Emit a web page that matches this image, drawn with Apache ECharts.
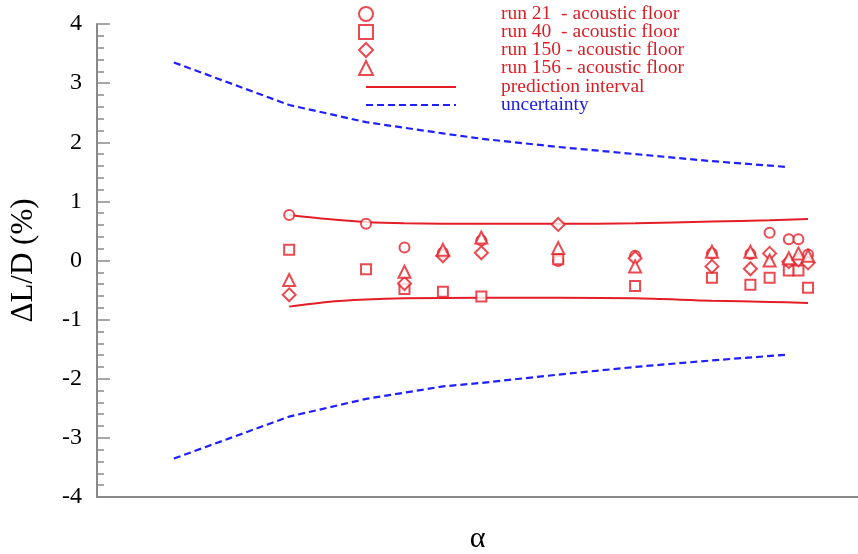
<!DOCTYPE html>
<html>
<head>
<meta charset="utf-8">
<title>ΔL/D vs α</title>
<script src="https://cdn.jsdelivr.net/npm/echarts@6/dist/echarts.min.js"></script>
<style>
  html, body { margin: 0; padding: 0; background: #fff; }
  #chart { width: 858px; height: 554px; }
</style>
</head>
<body>
<div id="chart"></div>
<script>
// Angle-of-attack stations (relative units) and measured ΔL/D (%) per run
var alphaRun21 = [0, 2, 3, 4, 5, 7, 9, 11, 12, 12.5, 13, 13.25, 13.5];
var run21 = [0.77, 0.62, 0.22, 0.13, 0.34, -0.01, 0.08, 0.12, 0.11, 0.47, 0.36, 0.36, 0.10];

var alphaRun40 = [0, 2, 3, 4, 5, 7, 9, 11, 12, 12.5, 13, 13.25, 13.5];
var run40 = [0.18, -0.15, -0.48, -0.53, -0.61, 0.02, -0.43, -0.29, -0.41, -0.29, -0.17, -0.17, -0.46];

var alphaRun150 = [0, 3, 4, 5, 7, 9, 11, 12, 12.5, 13, 13.25, 13.5];
var run150 = [-0.58, -0.39, 0.08, 0.13, 0.61, 0.04, -0.10, -0.14, 0.12, -0.02, 0.01, -0.04];

var alphaRun156 = [0, 3, 4, 5, 7, 9, 11, 12, 12.5, 13, 13.25, 13.5];
var run156 = [-0.33, -0.19, 0.18, 0.39, 0.21, -0.10, 0.15, 0.15, 0.00, 0.04, 0.12, 0.08];

// Prediction interval bounds
var alphaPred = [0, 1, 2, 3, 5, 7, 9, 11, 12.5, 13.5];
var predUpper = [0.77, 0.70, 0.65, 0.63, 0.62, 0.62, 0.63, 0.66, 0.68, 0.70];
var predLower = [-0.78, -0.70, -0.66, -0.64, -0.63, -0.63, -0.64, -0.68, -0.70, -0.72];

// Uncertainty bounds
var alphaUnc = [-3, 0, 2, 4, 5, 7, 9, 11, 13];
var uncUpper = [3.35, 2.63, 2.34, 2.15, 2.06, 1.92, 1.80, 1.68, 1.58];
var uncLower = [-3.35, -2.64, -2.34, -2.13, -2.07, -1.93, -1.80, -1.69, -1.59];

// Y-axis ticks
var yTicks = [-4, -3, -2, -1, 0, 1, 2, 3, 4];

var RED = '#e41e26';
var RED_TEXT = '#d81e26';
var BLUE = '#1f1fff';
var BLUE_TEXT = '#1a1ae6';
var AXIS_GREY = '#8a8a8a';
var SERIF = '"Liberation Serif", "DejaVu Serif", serif';

function pairs(xs, ys) {
  return xs.map(function (x, i) { return [x, ys[i]]; });
}

var names = {
  r21: 'run 21  - acoustic floor',
  r40: 'run 40  - acoustic floor',
  r150: 'run 150 - acoustic floor',
  r156: 'run 156 - acoustic floor',
  pred: 'prediction interval',
  unc: 'uncertainty'
};

function scatter(name, symbol, size, data) {
  return {
    name: name,
    type: 'scatter',
    symbol: symbol,
    symbolSize: size,
    data: data,
    itemStyle: { color: RED, borderColor: RED, borderWidth: 1.8 },
    z: 5
  };
}

function line(name, data, color, type, smooth) {
  return {
    name: name,
    type: 'line',
    data: data,
    symbol: 'none',
    smooth: smooth,
    lineStyle: { color: color, width: type === 'solid' ? 2 : 2.2, type: type },
    itemStyle: { color: color },
    z: 3
  };
}

var legendText = { fontFamily: SERIF, fontSize: 19.5, lineHeight: 18, color: RED_TEXT };

var chart = echarts.init(document.getElementById('chart'), null, { renderer: 'canvas' });

chart.setOption({
  animation: false,
  backgroundColor: '#ffffff',
  grid: { left: 97, right: 0, top: 24, bottom: 57, containLabel: false, outerBoundsMode: 'none' },
  legend: [
    {
      orient: 'vertical',
      left: 358,
      top: 4,
      padding: 0,
      itemWidth: 14,
      itemHeight: 14,
      itemGap: -2,
      selectedMode: false,
      textStyle: Object.assign({}, legendText, { padding: [0, 0, 0, 123] }),
      data: [names.r21, names.r40, names.r150, names.r156]
    },
    {
      orient: 'vertical',
      left: 365,
      top: 77,
      padding: 0,
      itemWidth: 90,
      itemHeight: 12,
      itemGap: -2,
      selectedMode: false,
      itemStyle: { opacity: 0 },
      textStyle: Object.assign({}, legendText, { padding: [0, 0, 0, 40] }),
      data: [
        { name: names.pred, textStyle: { color: RED_TEXT } },
        { name: names.unc, textStyle: { color: BLUE_TEXT } }
      ]
    }
  ],
  xAxis: {
    type: 'value',
    min: -5,
    max: 14.8,
    name: 'α',
    nameLocation: 'middle',
    nameGap: 27,
    nameTextStyle: { fontFamily: SERIF, fontSize: 30, color: '#000' },
    axisLine: { show: true, onZero: false, lineStyle: { color: AXIS_GREY, width: 2 } },
    axisTick: { show: false },
    axisLabel: { show: false },
    splitLine: { show: false }
  },
  yAxis: {
    type: 'value',
    min: yTicks[0],
    max: yTicks[yTicks.length - 1],
    interval: 1,
    name: 'ΔL/D (%)',
    nameLocation: 'middle',
    nameGap: 58,
    nameRotate: 90,
    nameTextStyle: { fontFamily: SERIF, fontSize: 31, color: '#000' },
    axisLine: { show: true, onZero: false, lineStyle: { color: AXIS_GREY, width: 2 } },
    axisTick: { show: true, inside: true, length: 13, lineStyle: { color: AXIS_GREY, width: 1.5 } },
    minorTick: { show: true, splitNumber: 5, length: 7, lineStyle: { color: AXIS_GREY, width: 1.5 } },
    axisLabel: {
      fontFamily: SERIF, fontSize: 24, color: '#000', margin: 15,
      formatter: function (v) { return String(v); }
    },
    splitLine: { show: false }
  },
  series: [
    scatter(names.r21, 'emptyCircle', 10, pairs(alphaRun21, run21)),
    scatter(names.r40, 'emptyRect', 10, pairs(alphaRun40, run40)),
    scatter(names.r150, 'emptyDiamond', 13, pairs(alphaRun150, run150)),
    scatter(names.r156, 'emptyTriangle', 12, pairs(alphaRun156, run156)),
    line(names.pred, pairs(alphaPred, predUpper), RED, 'solid', 0.3),
    line(names.pred, pairs(alphaPred, predLower), RED, 'solid', 0.3),
    line(names.unc, pairs(alphaUnc, uncUpper), BLUE, [7, 4], false),
    line(names.unc, pairs(alphaUnc, uncLower), BLUE, [7, 4], false)
  ]
});
</script>
</body>
</html>
